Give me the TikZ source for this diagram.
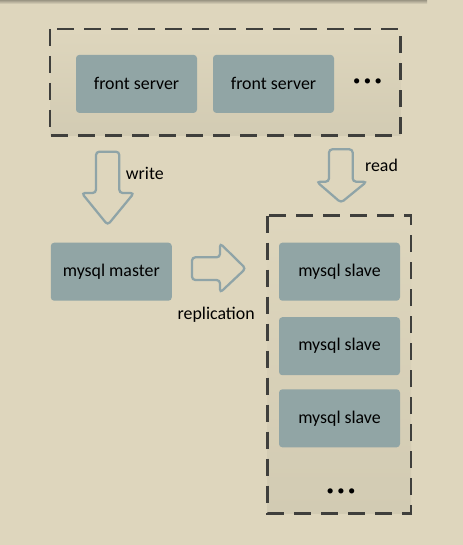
\documentclass[tikz,border=0pt]{standalone}
\usepackage{fontspec}
\setmainfont{Carlito}
\usepackage{tikz}
\definecolor{paper}{HTML}{DED6BD}
\definecolor{boxgray}{HTML}{91A5A5}
\definecolor{arrowgray}{HTML}{8FA4A7}
\definecolor{dashgray}{HTML}{3F3F3C}
\definecolor{groupbottom}{HTML}{D2CBB3}

\begin{document}
\begin{tikzpicture}[x=0.75pt, y=-0.75pt,
  server/.style={fill=boxgray, rounded corners=2.5pt, minimum width=90.75pt, minimum height=43.5pt, font=\fontsize{13.4}{16}\selectfont},
  group/.style={draw=dashgray, line width=2.2pt, dash pattern=on 12.75pt off 7.5pt, top color=paper, bottom color=groupbottom},
  blockarrow/.style={draw=arrowgray, line width=1.7pt, rounded corners=2.5pt, fill=paper},
  lbl/.style={font=\fontsize{13.4}{16}\selectfont},
  dots/.style={font=\fontsize{11}{13}\selectfont}]
\useasboundingbox (0,0) rectangle (463,545);
\fill[paper] (0,0) rectangle (463,545);
\shade[top color=black!30!paper, bottom color=paper] (0,0) rectangle (427,4);
\draw[group] (50,29) rectangle (400.7,135.7);
\node[server] (front1) at (136.5,83.9) {front server};
\node[server] (front2) at (273.5,83.9) {front server};
\node[dots] (frontdots) at (367.5,82.5) {•\kern2.6pt•\kern2.6pt•};
\draw[blockarrow] (96,151.7) -- (119.3,151.7) -- (119.3,193) -- (134,193) -- (107.7,225) -- (81.7,193) -- (96,193) -- cycle;
\node[lbl] (write) at (144.8,173) {write};
\draw[blockarrow] (329,149.3) -- (352.7,149.3) -- (352.7,181.7) -- (366.7,181.7) -- (341,202.7) -- (316.7,181.7) -- (329,181.7) -- cycle;
\node[lbl] (read) at (381.5,165.7) {read};
\node[server] (master) at (111.3,271.7) {mysql master};
\draw[blockarrow] (192,257.3) -- (220,257.3) -- (220,243.3) -- (245.7,268.5) -- (220,292.7) -- (220,280) -- (192,280) -- cycle;
\node[lbl] (replication) at (216.2,314.3) {replication};
\draw[group] (267.7,215.7) rectangle (411,513.3);
\node[server] (slave1) at (339.5,271.7) {mysql slave};
\node[server] (slave2) at (339.5,346.2) {mysql slave};
\node[server] (slave3) at (339.5,418.3) {mysql slave};
\node[dots] (slavedots) at (341,491.8) {•\kern2.6pt•\kern2.6pt•};
\end{tikzpicture}
\end{document}
